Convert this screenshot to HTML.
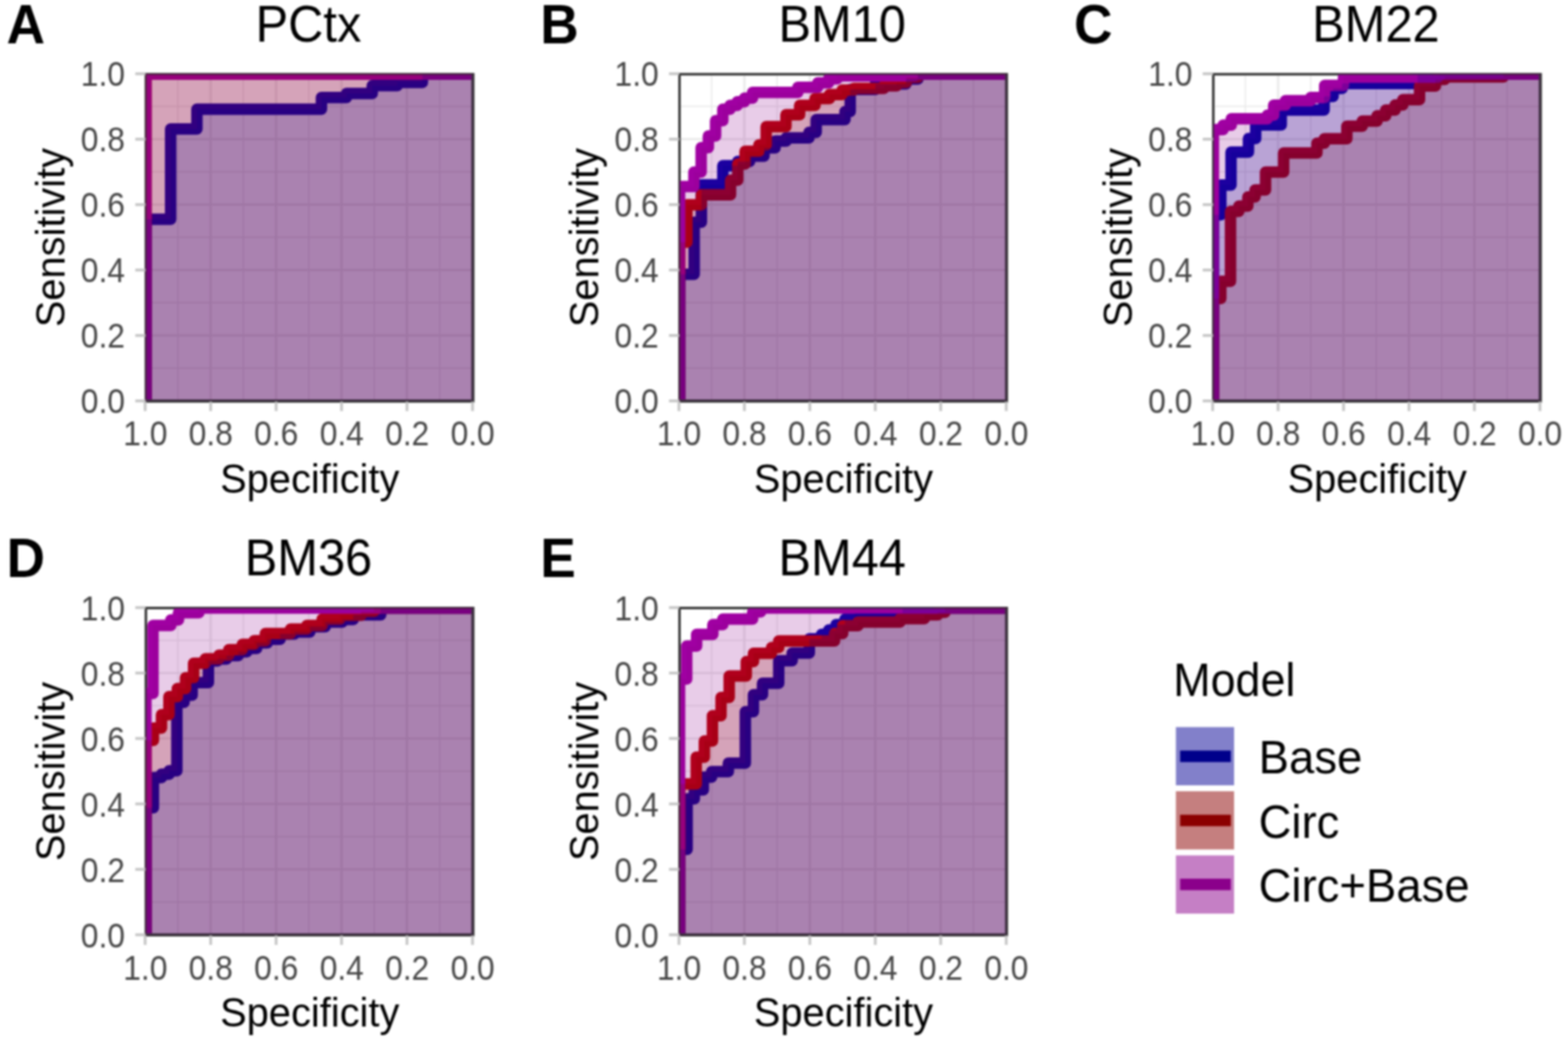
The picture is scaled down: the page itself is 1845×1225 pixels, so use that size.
<!DOCTYPE html>
<html lang="en">
<head>
<meta charset="utf-8">
<title>ROC curves by brain region</title>
<style>
html,body{margin:0;padding:0;background:#fff;overflow:hidden;}
body{width:1845px;height:1225px;overflow:hidden;font-family:"Liberation Sans",Arial,Helvetica,sans-serif;}
svg{display:block;filter:blur(1px);}
svg text{font-family:"Liberation Sans",Arial,Helvetica,sans-serif;}
.g{stroke:#e9e9e9;}
.ln{fill:none;stroke-width:13.5;stroke-linejoin:round;stroke-linecap:butt;}
.bd{fill:#fff;stroke:#333;stroke-width:2.8;}
.tk{stroke:#c4c4c4;stroke-width:3.2;}
.bo{fill:none;stroke:#333;stroke-width:2.8;stroke-opacity:0.45;}
.ol{fill:none;stroke:#45304a;stroke-width:4.6;stroke-linejoin:miter;}
.at{font-size:41.3px;fill:#474747;}
.ax{font-size:48.5px;fill:#000;}
.lg{font-size:56px;fill:#000;}
.ti{font-size:60.6px;fill:#000;}
.tg{font-size:65px;font-weight:bold;fill:#000;}
</style>
</head>
<body>
<svg width="1845" height="1225" viewBox="0 0 1845 1225">
<rect width="1845" height="1225" fill="#fff"/>
<g class="panel">
<rect class="bd" x="171.7" y="87.3" width="385.1" height="385"/>
<clipPath id="cA"><rect x="171.7" y="87.3" width="385.1" height="385"/></clipPath>
<g clip-path="url(#cA)">
<line class="g" x1="517.4" y1="88.9" x2="517.4" y2="470.7" stroke-width="1.4"/>
<line class="g" x1="173.2" y1="433.3" x2="555.1" y2="433.3" stroke-width="1.4"/>
<line class="g" x1="478.9" y1="88.9" x2="478.9" y2="470.7" stroke-width="2.6"/>
<line class="g" x1="173.2" y1="394.8" x2="555.1" y2="394.8" stroke-width="2.6"/>
<line class="g" x1="440.4" y1="88.9" x2="440.4" y2="470.7" stroke-width="1.4"/>
<line class="g" x1="173.2" y1="356.3" x2="555.1" y2="356.3" stroke-width="1.4"/>
<line class="g" x1="401.9" y1="88.9" x2="401.9" y2="470.7" stroke-width="2.6"/>
<line class="g" x1="173.2" y1="317.8" x2="555.1" y2="317.8" stroke-width="2.6"/>
<line class="g" x1="363.4" y1="88.9" x2="363.4" y2="470.7" stroke-width="1.4"/>
<line class="g" x1="173.2" y1="279.3" x2="555.1" y2="279.3" stroke-width="1.4"/>
<line class="g" x1="324.9" y1="88.9" x2="324.9" y2="470.7" stroke-width="2.6"/>
<line class="g" x1="173.2" y1="240.8" x2="555.1" y2="240.8" stroke-width="2.6"/>
<line class="g" x1="286.4" y1="88.9" x2="286.4" y2="470.7" stroke-width="1.4"/>
<line class="g" x1="173.2" y1="202.3" x2="555.1" y2="202.3" stroke-width="1.4"/>
<line class="g" x1="247.9" y1="88.9" x2="247.9" y2="470.7" stroke-width="2.6"/>
<line class="g" x1="173.2" y1="163.8" x2="555.1" y2="163.8" stroke-width="2.6"/>
<line class="g" x1="209.4" y1="88.9" x2="209.4" y2="470.7" stroke-width="1.4"/>
<line class="g" x1="173.2" y1="125.3" x2="555.1" y2="125.3" stroke-width="1.4"/>
<path class="ln" d="M171.7 472.3V258H200.8V151.7H231.7V128.4H378.2V114.7H407.7V109.9H438V100.8H467.5V97H497V87.3H556.8" stroke="#0000a5"/>
<path class="ln" d="M171.7 472.3V87.3H556.8" stroke="#b90000"/>
<path class="ln" d="M171.7 472.3V87.3H556.8" stroke="#a000a2"/>
<path d="M171.7 472.3V87.3H556.8V472.3Z" fill="#8b008b" fill-opacity="0.2"/>
<path d="M171.7 472.3V87.3H556.8V472.3Z" fill="#8b0000" fill-opacity="0.2"/>
<path d="M171.7 472.3V258H200.8V151.7H231.7V128.4H378.2V114.7H407.7V109.9H438V100.8H467.5V97H497V87.3H556.8V472.3Z" fill="#00008b" fill-opacity="0.2"/>
<path class="ol" d="M171.7 472.3H556.8V87.3"/>
</g>
<rect class="bo" x="171.7" y="87.3" width="385.1" height="385"/>
<line class="tk" x1="556" y1="472.6" x2="556" y2="483.7"/>
<line class="tk" x1="159.2" y1="471.8" x2="171.3" y2="471.8"/>
<text class="at" text-anchor="middle" transform="translate(556.15 524.3) scale(0.905 1)">0.0</text>
<text class="at" text-anchor="end" transform="translate(147.05 486.3) scale(0.905 1)">0.0</text>
<line class="tk" x1="478.9" y1="472.6" x2="478.9" y2="483.7"/>
<line class="tk" x1="159.2" y1="394.8" x2="171.3" y2="394.8"/>
<text class="at" text-anchor="middle" transform="translate(479.13 524.3) scale(0.905 1)">0.2</text>
<text class="at" text-anchor="end" transform="translate(147.05 409.3) scale(0.905 1)">0.2</text>
<line class="tk" x1="401.9" y1="472.6" x2="401.9" y2="483.7"/>
<line class="tk" x1="159.2" y1="317.8" x2="171.3" y2="317.8"/>
<text class="at" text-anchor="middle" transform="translate(402.11 524.3) scale(0.905 1)">0.4</text>
<text class="at" text-anchor="end" transform="translate(147.05 332.3) scale(0.905 1)">0.4</text>
<line class="tk" x1="324.9" y1="472.6" x2="324.9" y2="483.7"/>
<line class="tk" x1="159.2" y1="240.8" x2="171.3" y2="240.8"/>
<text class="at" text-anchor="middle" transform="translate(325.09 524.3) scale(0.905 1)">0.6</text>
<text class="at" text-anchor="end" transform="translate(147.05 255.3) scale(0.905 1)">0.6</text>
<line class="tk" x1="247.9" y1="472.6" x2="247.9" y2="483.7"/>
<line class="tk" x1="159.2" y1="163.8" x2="171.3" y2="163.8"/>
<text class="at" text-anchor="middle" transform="translate(248.07 524.3) scale(0.905 1)">0.8</text>
<text class="at" text-anchor="end" transform="translate(147.05 178.3) scale(0.905 1)">0.8</text>
<line class="tk" x1="170.8" y1="472.6" x2="170.8" y2="483.7"/>
<line class="tk" x1="159.2" y1="86.8" x2="171.3" y2="86.8"/>
<text class="at" text-anchor="middle" transform="translate(171.05 524.3) scale(0.905 1)">1.0</text>
<text class="at" text-anchor="end" transform="translate(147.05 101.3) scale(0.905 1)">1.0</text>
<text class="ax" text-anchor="middle" transform="translate(364.5 580.1) scale(0.966 1)">Specificity</text>
<text class="ax" text-anchor="middle" transform="translate(76.45 279.6) rotate(-90) scale(0.966 1)">Sensitivity</text>
<text class="ti" text-anchor="middle" transform="translate(363 49) scale(0.948 1)">PCtx</text>
<text class="tg" transform="translate(7.75 50.8) scale(0.963 1)">A</text>
</g>
<g class="panel">
<rect class="bd" x="799.6" y="87.3" width="385.1" height="385"/>
<clipPath id="cB"><rect x="799.6" y="87.3" width="385.1" height="385"/></clipPath>
<g clip-path="url(#cB)">
<line class="g" x1="1145.4" y1="88.9" x2="1145.4" y2="470.7" stroke-width="1.4"/>
<line class="g" x1="801.2" y1="433.3" x2="1183.2" y2="433.3" stroke-width="1.4"/>
<line class="g" x1="1106.9" y1="88.9" x2="1106.9" y2="470.7" stroke-width="2.6"/>
<line class="g" x1="801.2" y1="394.8" x2="1183.2" y2="394.8" stroke-width="2.6"/>
<line class="g" x1="1068.4" y1="88.9" x2="1068.4" y2="470.7" stroke-width="1.4"/>
<line class="g" x1="801.2" y1="356.3" x2="1183.2" y2="356.3" stroke-width="1.4"/>
<line class="g" x1="1029.9" y1="88.9" x2="1029.9" y2="470.7" stroke-width="2.6"/>
<line class="g" x1="801.2" y1="317.8" x2="1183.2" y2="317.8" stroke-width="2.6"/>
<line class="g" x1="991.4" y1="88.9" x2="991.4" y2="470.7" stroke-width="1.4"/>
<line class="g" x1="801.2" y1="279.3" x2="1183.2" y2="279.3" stroke-width="1.4"/>
<line class="g" x1="952.9" y1="88.9" x2="952.9" y2="470.7" stroke-width="2.6"/>
<line class="g" x1="801.2" y1="240.8" x2="1183.2" y2="240.8" stroke-width="2.6"/>
<line class="g" x1="914.4" y1="88.9" x2="914.4" y2="470.7" stroke-width="1.4"/>
<line class="g" x1="801.2" y1="202.3" x2="1183.2" y2="202.3" stroke-width="1.4"/>
<line class="g" x1="875.9" y1="88.9" x2="875.9" y2="470.7" stroke-width="2.6"/>
<line class="g" x1="801.2" y1="163.8" x2="1183.2" y2="163.8" stroke-width="2.6"/>
<line class="g" x1="837.4" y1="88.9" x2="837.4" y2="470.7" stroke-width="1.4"/>
<line class="g" x1="801.2" y1="125.3" x2="1183.2" y2="125.3" stroke-width="1.4"/>
<path class="ln" d="M799.6 472.3V322.7H816.8V261.4H825.3V217.5H850.5V195H868V190H882V183.7H899V174H912V166H925V162.3H951.9V155.7H960.4V140.8H994.3V131.3H1000.4V105.2H1030V98.8H1066V93H1080V87.3H1184.8" stroke="#0000a5"/>
<path class="ln" d="M799.6 472.3V285H808.2V241H825.3V229.2H859.6V212H868.1V193H876.7V178H893V170.6H901.5V149H924.8V135H940.9V124.1H959V116.1H976V111.3H990.8V106H1004.6V103.9H1040V101H1055V97H1066.4V91H1080V87.3H1184.8" stroke="#b90000"/>
<path class="ln" d="M799.6 472.3V219.6H816.5V202.5H825V173.7H833.5V159.9H842V141.9H850.5V128.6H859V124.1H867.5V119.8H876V115.6H885.5V108.7H938.8V102.8H962.2V97.5H975V92.7H985V89.3H1076V87.3H1184.8" stroke="#a000a2"/>
<path d="M799.6 472.3V219.6H816.5V202.5H825V173.7H833.5V159.9H842V141.9H850.5V128.6H859V124.1H867.5V119.8H876V115.6H885.5V108.7H938.8V102.8H962.2V97.5H975V92.7H985V89.3H1076V87.3H1184.8V472.3Z" fill="#8b008b" fill-opacity="0.2"/>
<path d="M799.6 472.3V285H808.2V241H825.3V229.2H859.6V212H868.1V193H876.7V178H893V170.6H901.5V149H924.8V135H940.9V124.1H959V116.1H976V111.3H990.8V106H1004.6V103.9H1040V101H1055V97H1066.4V91H1080V87.3H1184.8V472.3Z" fill="#8b0000" fill-opacity="0.2"/>
<path d="M799.6 472.3V322.7H816.8V261.4H825.3V217.5H850.5V195H868V190H882V183.7H899V174H912V166H925V162.3H951.9V155.7H960.4V140.8H994.3V131.3H1000.4V105.2H1030V98.8H1066V93H1080V87.3H1184.8V472.3Z" fill="#00008b" fill-opacity="0.2"/>
<path class="ol" d="M799.6 472.3H1184.8V87.3"/>
</g>
<rect class="bo" x="799.6" y="87.3" width="385.1" height="385"/>
<line class="tk" x1="1184" y1="472.6" x2="1184" y2="483.7"/>
<line class="tk" x1="787.2" y1="471.8" x2="799.4" y2="471.8"/>
<text class="at" text-anchor="middle" transform="translate(1184.15 524.3) scale(0.905 1)">0.0</text>
<text class="at" text-anchor="end" transform="translate(775.05 486.3) scale(0.905 1)">0.0</text>
<line class="tk" x1="1106.9" y1="472.6" x2="1106.9" y2="483.7"/>
<line class="tk" x1="787.2" y1="394.8" x2="799.4" y2="394.8"/>
<text class="at" text-anchor="middle" transform="translate(1107.13 524.3) scale(0.905 1)">0.2</text>
<text class="at" text-anchor="end" transform="translate(775.05 409.3) scale(0.905 1)">0.2</text>
<line class="tk" x1="1029.9" y1="472.6" x2="1029.9" y2="483.7"/>
<line class="tk" x1="787.2" y1="317.8" x2="799.4" y2="317.8"/>
<text class="at" text-anchor="middle" transform="translate(1030.11 524.3) scale(0.905 1)">0.4</text>
<text class="at" text-anchor="end" transform="translate(775.05 332.3) scale(0.905 1)">0.4</text>
<line class="tk" x1="952.9" y1="472.6" x2="952.9" y2="483.7"/>
<line class="tk" x1="787.2" y1="240.8" x2="799.4" y2="240.8"/>
<text class="at" text-anchor="middle" transform="translate(953.09 524.3) scale(0.905 1)">0.6</text>
<text class="at" text-anchor="end" transform="translate(775.05 255.3) scale(0.905 1)">0.6</text>
<line class="tk" x1="875.9" y1="472.6" x2="875.9" y2="483.7"/>
<line class="tk" x1="787.2" y1="163.8" x2="799.4" y2="163.8"/>
<text class="at" text-anchor="middle" transform="translate(876.07 524.3) scale(0.905 1)">0.8</text>
<text class="at" text-anchor="end" transform="translate(775.05 178.3) scale(0.905 1)">0.8</text>
<line class="tk" x1="798.9" y1="472.6" x2="798.9" y2="483.7"/>
<line class="tk" x1="787.2" y1="86.8" x2="799.4" y2="86.8"/>
<text class="at" text-anchor="middle" transform="translate(799.05 524.3) scale(0.905 1)">1.0</text>
<text class="at" text-anchor="end" transform="translate(775.05 101.3) scale(0.905 1)">1.0</text>
<text class="ax" text-anchor="middle" transform="translate(992.5 580.1) scale(0.966 1)">Specificity</text>
<text class="ax" text-anchor="middle" transform="translate(704.45 279.6) rotate(-90) scale(0.966 1)">Sensitivity</text>
<text class="ti" text-anchor="middle" transform="translate(991 49) scale(0.948 1)">BM10</text>
<text class="tg" transform="translate(635.75 50.8) scale(0.963 1)">B</text>
</g>
<g class="panel">
<rect class="bd" x="1427.7" y="87.3" width="385.1" height="385"/>
<clipPath id="cC"><rect x="1427.7" y="87.3" width="385.1" height="385"/></clipPath>
<g clip-path="url(#cC)">
<line class="g" x1="1773.4" y1="88.9" x2="1773.4" y2="470.7" stroke-width="1.4"/>
<line class="g" x1="1429.2" y1="433.3" x2="1811.2" y2="433.3" stroke-width="1.4"/>
<line class="g" x1="1734.9" y1="88.9" x2="1734.9" y2="470.7" stroke-width="2.6"/>
<line class="g" x1="1429.2" y1="394.8" x2="1811.2" y2="394.8" stroke-width="2.6"/>
<line class="g" x1="1696.4" y1="88.9" x2="1696.4" y2="470.7" stroke-width="1.4"/>
<line class="g" x1="1429.2" y1="356.3" x2="1811.2" y2="356.3" stroke-width="1.4"/>
<line class="g" x1="1657.9" y1="88.9" x2="1657.9" y2="470.7" stroke-width="2.6"/>
<line class="g" x1="1429.2" y1="317.8" x2="1811.2" y2="317.8" stroke-width="2.6"/>
<line class="g" x1="1619.4" y1="88.9" x2="1619.4" y2="470.7" stroke-width="1.4"/>
<line class="g" x1="1429.2" y1="279.3" x2="1811.2" y2="279.3" stroke-width="1.4"/>
<line class="g" x1="1580.9" y1="88.9" x2="1580.9" y2="470.7" stroke-width="2.6"/>
<line class="g" x1="1429.2" y1="240.8" x2="1811.2" y2="240.8" stroke-width="2.6"/>
<line class="g" x1="1542.4" y1="88.9" x2="1542.4" y2="470.7" stroke-width="1.4"/>
<line class="g" x1="1429.2" y1="202.3" x2="1811.2" y2="202.3" stroke-width="1.4"/>
<line class="g" x1="1503.9" y1="88.9" x2="1503.9" y2="470.7" stroke-width="2.6"/>
<line class="g" x1="1429.2" y1="163.8" x2="1811.2" y2="163.8" stroke-width="2.6"/>
<line class="g" x1="1465.4" y1="88.9" x2="1465.4" y2="470.7" stroke-width="1.4"/>
<line class="g" x1="1429.2" y1="125.3" x2="1811.2" y2="125.3" stroke-width="1.4"/>
<path class="ln" d="M1427.7 472.3V252.8H1436.5V217.7H1448.5V179H1469V163H1477.5V147H1507.6V129.6H1558V113.6H1568.6V104.1H1579.2V98.3H1668V87.3H1812.8" stroke="#0000a5"/>
<path class="ln" d="M1427.7 472.3V351.3H1436.5V331.1H1447.9V248.8H1457.7V242.5H1468.3V231.8H1476.8V223.4H1489.1V202.4H1510.4V180.1H1549.6V168.4H1558.3V163.3H1584.8V148.5H1602.9V142.6H1620.4V136.3H1630.5V129.4H1641.6V123.5H1650.7V117.2H1670.3V101.2H1689V93.5H1700V90.5H1769V87.3H1812.8" stroke="#b90000"/>
<path class="ln" d="M1427.7 472.3V152.5H1439.2V147.2H1448.8V139.8H1491.3V135.5H1498.7V123.8H1512.5V118.5H1542.2V114.8H1558.7V100.5H1580.9V90.8H1692V87.3H1812.8" stroke="#a000a2"/>
<path d="M1427.7 472.3V152.5H1439.2V147.2H1448.8V139.8H1491.3V135.5H1498.7V123.8H1512.5V118.5H1542.2V114.8H1558.7V100.5H1580.9V90.8H1692V87.3H1812.8V472.3Z" fill="#8b008b" fill-opacity="0.2"/>
<path d="M1427.7 472.3V351.3H1436.5V331.1H1447.9V248.8H1457.7V242.5H1468.3V231.8H1476.8V223.4H1489.1V202.4H1510.4V180.1H1549.6V168.4H1558.3V163.3H1584.8V148.5H1602.9V142.6H1620.4V136.3H1630.5V129.4H1641.6V123.5H1650.7V117.2H1670.3V101.2H1689V93.5H1700V90.5H1769V87.3H1812.8V472.3Z" fill="#8b0000" fill-opacity="0.2"/>
<path d="M1427.7 472.3V252.8H1436.5V217.7H1448.5V179H1469V163H1477.5V147H1507.6V129.6H1558V113.6H1568.6V104.1H1579.2V98.3H1668V87.3H1812.8V472.3Z" fill="#00008b" fill-opacity="0.2"/>
<path class="ol" d="M1427.7 472.3H1812.8V87.3"/>
</g>
<rect class="bo" x="1427.7" y="87.3" width="385.1" height="385"/>
<line class="tk" x1="1812" y1="472.6" x2="1812" y2="483.7"/>
<line class="tk" x1="1415.2" y1="471.8" x2="1427.4" y2="471.8"/>
<text class="at" text-anchor="middle" transform="translate(1812.15 524.3) scale(0.905 1)">0.0</text>
<text class="at" text-anchor="end" transform="translate(1403.05 486.3) scale(0.905 1)">0.0</text>
<line class="tk" x1="1734.9" y1="472.6" x2="1734.9" y2="483.7"/>
<line class="tk" x1="1415.2" y1="394.8" x2="1427.4" y2="394.8"/>
<text class="at" text-anchor="middle" transform="translate(1735.13 524.3) scale(0.905 1)">0.2</text>
<text class="at" text-anchor="end" transform="translate(1403.05 409.3) scale(0.905 1)">0.2</text>
<line class="tk" x1="1657.9" y1="472.6" x2="1657.9" y2="483.7"/>
<line class="tk" x1="1415.2" y1="317.8" x2="1427.4" y2="317.8"/>
<text class="at" text-anchor="middle" transform="translate(1658.11 524.3) scale(0.905 1)">0.4</text>
<text class="at" text-anchor="end" transform="translate(1403.05 332.3) scale(0.905 1)">0.4</text>
<line class="tk" x1="1580.9" y1="472.6" x2="1580.9" y2="483.7"/>
<line class="tk" x1="1415.2" y1="240.8" x2="1427.4" y2="240.8"/>
<text class="at" text-anchor="middle" transform="translate(1581.09 524.3) scale(0.905 1)">0.6</text>
<text class="at" text-anchor="end" transform="translate(1403.05 255.3) scale(0.905 1)">0.6</text>
<line class="tk" x1="1503.9" y1="472.6" x2="1503.9" y2="483.7"/>
<line class="tk" x1="1415.2" y1="163.8" x2="1427.4" y2="163.8"/>
<text class="at" text-anchor="middle" transform="translate(1504.07 524.3) scale(0.905 1)">0.8</text>
<text class="at" text-anchor="end" transform="translate(1403.05 178.3) scale(0.905 1)">0.8</text>
<line class="tk" x1="1426.9" y1="472.6" x2="1426.9" y2="483.7"/>
<line class="tk" x1="1415.2" y1="86.8" x2="1427.4" y2="86.8"/>
<text class="at" text-anchor="middle" transform="translate(1427.05 524.3) scale(0.905 1)">1.0</text>
<text class="at" text-anchor="end" transform="translate(1403.05 101.3) scale(0.905 1)">1.0</text>
<text class="ax" text-anchor="middle" transform="translate(1620.5 580.1) scale(0.966 1)">Specificity</text>
<text class="ax" text-anchor="middle" transform="translate(1332.45 279.6) rotate(-90) scale(0.966 1)">Sensitivity</text>
<text class="ti" text-anchor="middle" transform="translate(1619 49) scale(0.948 1)">BM22</text>
<text class="tg" transform="translate(1263.75 50.8) scale(0.963 1)">C</text>
</g>
<g class="panel">
<rect class="bd" x="171.7" y="715.5" width="385.1" height="385"/>
<clipPath id="cD"><rect x="171.7" y="715.5" width="385.1" height="385"/></clipPath>
<g clip-path="url(#cD)">
<line class="g" x1="517.4" y1="717.1" x2="517.4" y2="1098.9" stroke-width="1.4"/>
<line class="g" x1="173.2" y1="1061.5" x2="555.1" y2="1061.5" stroke-width="1.4"/>
<line class="g" x1="478.9" y1="717.1" x2="478.9" y2="1098.9" stroke-width="2.6"/>
<line class="g" x1="173.2" y1="1023" x2="555.1" y2="1023" stroke-width="2.6"/>
<line class="g" x1="440.4" y1="717.1" x2="440.4" y2="1098.9" stroke-width="1.4"/>
<line class="g" x1="173.2" y1="984.5" x2="555.1" y2="984.5" stroke-width="1.4"/>
<line class="g" x1="401.9" y1="717.1" x2="401.9" y2="1098.9" stroke-width="2.6"/>
<line class="g" x1="173.2" y1="946" x2="555.1" y2="946" stroke-width="2.6"/>
<line class="g" x1="363.4" y1="717.1" x2="363.4" y2="1098.9" stroke-width="1.4"/>
<line class="g" x1="173.2" y1="907.5" x2="555.1" y2="907.5" stroke-width="1.4"/>
<line class="g" x1="324.9" y1="717.1" x2="324.9" y2="1098.9" stroke-width="2.6"/>
<line class="g" x1="173.2" y1="869" x2="555.1" y2="869" stroke-width="2.6"/>
<line class="g" x1="286.4" y1="717.1" x2="286.4" y2="1098.9" stroke-width="1.4"/>
<line class="g" x1="173.2" y1="830.5" x2="555.1" y2="830.5" stroke-width="1.4"/>
<line class="g" x1="247.9" y1="717.1" x2="247.9" y2="1098.9" stroke-width="2.6"/>
<line class="g" x1="173.2" y1="792" x2="555.1" y2="792" stroke-width="2.6"/>
<line class="g" x1="209.4" y1="717.1" x2="209.4" y2="1098.9" stroke-width="1.4"/>
<line class="g" x1="173.2" y1="753.5" x2="555.1" y2="753.5" stroke-width="1.4"/>
<path class="ln" d="M171.7 1100.5V950.6H180.5V915H190V911H199V907H208.1V826.6H216.6V818H226.1V803.2H245.2V777.7H255.9V775.6H266.5V771.4H280.3V767.1H290.4V762.9H302V756.5H314.7V752.3H329.6V745.9H346.6V743.8H364.6V737.4H382.7V732.1H402.8V729H415.6V723.6H448V715.5H556.8" stroke="#0000a5"/>
<path class="ln" d="M171.7 1100.5V871.3H180.5V856.7H190V841H198.8V819.8H208.7V810.2H218.3V797.5H227.8V780.5H241.6V775.2H257.6V771H269.2V764.6H285.2V758.2H299V754H312.2V745.5H341.9V740.2H361V735.9H379.1V728.5H400V724H425V719.5H440V715.5H556.8" stroke="#b90000"/>
<path class="ln" d="M171.7 1100.5V816H180V736H201V729.5H210V721H234V715.5H556.8" stroke="#a000a2"/>
<path d="M171.7 1100.5V816H180V736H201V729.5H210V721H234V715.5H556.8V1100.5Z" fill="#8b008b" fill-opacity="0.2"/>
<path d="M171.7 1100.5V871.3H180.5V856.7H190V841H198.8V819.8H208.7V810.2H218.3V797.5H227.8V780.5H241.6V775.2H257.6V771H269.2V764.6H285.2V758.2H299V754H312.2V745.5H341.9V740.2H361V735.9H379.1V728.5H400V724H425V719.5H440V715.5H556.8V1100.5Z" fill="#8b0000" fill-opacity="0.2"/>
<path d="M171.7 1100.5V950.6H180.5V915H190V911H199V907H208.1V826.6H216.6V818H226.1V803.2H245.2V777.7H255.9V775.6H266.5V771.4H280.3V767.1H290.4V762.9H302V756.5H314.7V752.3H329.6V745.9H346.6V743.8H364.6V737.4H382.7V732.1H402.8V729H415.6V723.6H448V715.5H556.8V1100.5Z" fill="#00008b" fill-opacity="0.2"/>
<path class="ol" d="M171.7 1100.5H556.8V715.5"/>
</g>
<rect class="bo" x="171.7" y="715.5" width="385.1" height="385"/>
<line class="tk" x1="556" y1="1100.8" x2="556" y2="1111.9"/>
<line class="tk" x1="159.2" y1="1100" x2="171.3" y2="1100"/>
<text class="at" text-anchor="middle" transform="translate(556.15 1152.5) scale(0.905 1)">0.0</text>
<text class="at" text-anchor="end" transform="translate(147.05 1114.5) scale(0.905 1)">0.0</text>
<line class="tk" x1="478.9" y1="1100.8" x2="478.9" y2="1111.9"/>
<line class="tk" x1="159.2" y1="1023" x2="171.3" y2="1023"/>
<text class="at" text-anchor="middle" transform="translate(479.13 1152.5) scale(0.905 1)">0.2</text>
<text class="at" text-anchor="end" transform="translate(147.05 1037.5) scale(0.905 1)">0.2</text>
<line class="tk" x1="401.9" y1="1100.8" x2="401.9" y2="1111.9"/>
<line class="tk" x1="159.2" y1="946" x2="171.3" y2="946"/>
<text class="at" text-anchor="middle" transform="translate(402.11 1152.5) scale(0.905 1)">0.4</text>
<text class="at" text-anchor="end" transform="translate(147.05 960.5) scale(0.905 1)">0.4</text>
<line class="tk" x1="324.9" y1="1100.8" x2="324.9" y2="1111.9"/>
<line class="tk" x1="159.2" y1="869" x2="171.3" y2="869"/>
<text class="at" text-anchor="middle" transform="translate(325.09 1152.5) scale(0.905 1)">0.6</text>
<text class="at" text-anchor="end" transform="translate(147.05 883.5) scale(0.905 1)">0.6</text>
<line class="tk" x1="247.9" y1="1100.8" x2="247.9" y2="1111.9"/>
<line class="tk" x1="159.2" y1="792" x2="171.3" y2="792"/>
<text class="at" text-anchor="middle" transform="translate(248.07 1152.5) scale(0.905 1)">0.8</text>
<text class="at" text-anchor="end" transform="translate(147.05 806.5) scale(0.905 1)">0.8</text>
<line class="tk" x1="170.8" y1="1100.8" x2="170.8" y2="1111.9"/>
<line class="tk" x1="159.2" y1="715" x2="171.3" y2="715"/>
<text class="at" text-anchor="middle" transform="translate(171.05 1152.5) scale(0.905 1)">1.0</text>
<text class="at" text-anchor="end" transform="translate(147.05 729.5) scale(0.905 1)">1.0</text>
<text class="ax" text-anchor="middle" transform="translate(364.5 1208.3) scale(0.966 1)">Specificity</text>
<text class="ax" text-anchor="middle" transform="translate(76.45 907.8) rotate(-90) scale(0.966 1)">Sensitivity</text>
<text class="ti" text-anchor="middle" transform="translate(363 677.2) scale(0.948 1)">BM36</text>
<text class="tg" transform="translate(7.75 679) scale(0.963 1)">D</text>
</g>
<g class="panel">
<rect class="bd" x="799.6" y="715.5" width="385.1" height="385"/>
<clipPath id="cE"><rect x="799.6" y="715.5" width="385.1" height="385"/></clipPath>
<g clip-path="url(#cE)">
<line class="g" x1="1145.4" y1="717.1" x2="1145.4" y2="1098.9" stroke-width="1.4"/>
<line class="g" x1="801.2" y1="1061.5" x2="1183.2" y2="1061.5" stroke-width="1.4"/>
<line class="g" x1="1106.9" y1="717.1" x2="1106.9" y2="1098.9" stroke-width="2.6"/>
<line class="g" x1="801.2" y1="1023" x2="1183.2" y2="1023" stroke-width="2.6"/>
<line class="g" x1="1068.4" y1="717.1" x2="1068.4" y2="1098.9" stroke-width="1.4"/>
<line class="g" x1="801.2" y1="984.5" x2="1183.2" y2="984.5" stroke-width="1.4"/>
<line class="g" x1="1029.9" y1="717.1" x2="1029.9" y2="1098.9" stroke-width="2.6"/>
<line class="g" x1="801.2" y1="946" x2="1183.2" y2="946" stroke-width="2.6"/>
<line class="g" x1="991.4" y1="717.1" x2="991.4" y2="1098.9" stroke-width="1.4"/>
<line class="g" x1="801.2" y1="907.5" x2="1183.2" y2="907.5" stroke-width="1.4"/>
<line class="g" x1="952.9" y1="717.1" x2="952.9" y2="1098.9" stroke-width="2.6"/>
<line class="g" x1="801.2" y1="869" x2="1183.2" y2="869" stroke-width="2.6"/>
<line class="g" x1="914.4" y1="717.1" x2="914.4" y2="1098.9" stroke-width="1.4"/>
<line class="g" x1="801.2" y1="830.5" x2="1183.2" y2="830.5" stroke-width="1.4"/>
<line class="g" x1="875.9" y1="717.1" x2="875.9" y2="1098.9" stroke-width="2.6"/>
<line class="g" x1="801.2" y1="792" x2="1183.2" y2="792" stroke-width="2.6"/>
<line class="g" x1="837.4" y1="717.1" x2="837.4" y2="1098.9" stroke-width="1.4"/>
<line class="g" x1="801.2" y1="753.5" x2="1183.2" y2="753.5" stroke-width="1.4"/>
<path class="ln" d="M799.6 1100.5V999.5H808.5V940H817V929.4H827.6V914.5H837.3V908H857V898H877V837.5H886.5V817.5H897.2V803.9H916.3V777.5H932.1V768.5H952.3V751.8H966.7V746.5H975.2V741.2H983.7V734.9H994.3V728.5H1005.7V721.5H1062V715.5H1184.8" stroke="#0000a5"/>
<path class="ln" d="M799.6 1100.5V922.6H819.2V891H828.8V871.9H838.3V842.2H848.4V820.8H858V795.4H878.1V778.4H886.6V768.8H907.8V762H916.3V754.3H982V745.5H991.6V736.3H1009.6V732.1H1059V727.9H1087.6V723.6H1103.5V720.5H1112V715.5H1184.8" stroke="#b90000"/>
<path class="ln" d="M799.6 1100.5V799H808V760.3H819.7V746.5H838.8V734.9H850.5V728.5H885.6V720H895V715.5H1184.8" stroke="#a000a2"/>
<path d="M799.6 1100.5V799H808V760.3H819.7V746.5H838.8V734.9H850.5V728.5H885.6V720H895V715.5H1184.8V1100.5Z" fill="#8b008b" fill-opacity="0.2"/>
<path d="M799.6 1100.5V922.6H819.2V891H828.8V871.9H838.3V842.2H848.4V820.8H858V795.4H878.1V778.4H886.6V768.8H907.8V762H916.3V754.3H982V745.5H991.6V736.3H1009.6V732.1H1059V727.9H1087.6V723.6H1103.5V720.5H1112V715.5H1184.8V1100.5Z" fill="#8b0000" fill-opacity="0.2"/>
<path d="M799.6 1100.5V999.5H808.5V940H817V929.4H827.6V914.5H837.3V908H857V898H877V837.5H886.5V817.5H897.2V803.9H916.3V777.5H932.1V768.5H952.3V751.8H966.7V746.5H975.2V741.2H983.7V734.9H994.3V728.5H1005.7V721.5H1062V715.5H1184.8V1100.5Z" fill="#00008b" fill-opacity="0.2"/>
<path class="ol" d="M799.6 1100.5H1184.8V715.5"/>
</g>
<rect class="bo" x="799.6" y="715.5" width="385.1" height="385"/>
<line class="tk" x1="1184" y1="1100.8" x2="1184" y2="1111.9"/>
<line class="tk" x1="787.2" y1="1100" x2="799.4" y2="1100"/>
<text class="at" text-anchor="middle" transform="translate(1184.15 1152.5) scale(0.905 1)">0.0</text>
<text class="at" text-anchor="end" transform="translate(775.05 1114.5) scale(0.905 1)">0.0</text>
<line class="tk" x1="1106.9" y1="1100.8" x2="1106.9" y2="1111.9"/>
<line class="tk" x1="787.2" y1="1023" x2="799.4" y2="1023"/>
<text class="at" text-anchor="middle" transform="translate(1107.13 1152.5) scale(0.905 1)">0.2</text>
<text class="at" text-anchor="end" transform="translate(775.05 1037.5) scale(0.905 1)">0.2</text>
<line class="tk" x1="1029.9" y1="1100.8" x2="1029.9" y2="1111.9"/>
<line class="tk" x1="787.2" y1="946" x2="799.4" y2="946"/>
<text class="at" text-anchor="middle" transform="translate(1030.11 1152.5) scale(0.905 1)">0.4</text>
<text class="at" text-anchor="end" transform="translate(775.05 960.5) scale(0.905 1)">0.4</text>
<line class="tk" x1="952.9" y1="1100.8" x2="952.9" y2="1111.9"/>
<line class="tk" x1="787.2" y1="869" x2="799.4" y2="869"/>
<text class="at" text-anchor="middle" transform="translate(953.09 1152.5) scale(0.905 1)">0.6</text>
<text class="at" text-anchor="end" transform="translate(775.05 883.5) scale(0.905 1)">0.6</text>
<line class="tk" x1="875.9" y1="1100.8" x2="875.9" y2="1111.9"/>
<line class="tk" x1="787.2" y1="792" x2="799.4" y2="792"/>
<text class="at" text-anchor="middle" transform="translate(876.07 1152.5) scale(0.905 1)">0.8</text>
<text class="at" text-anchor="end" transform="translate(775.05 806.5) scale(0.905 1)">0.8</text>
<line class="tk" x1="798.9" y1="1100.8" x2="798.9" y2="1111.9"/>
<line class="tk" x1="787.2" y1="715" x2="799.4" y2="715"/>
<text class="at" text-anchor="middle" transform="translate(799.05 1152.5) scale(0.905 1)">1.0</text>
<text class="at" text-anchor="end" transform="translate(775.05 729.5) scale(0.905 1)">1.0</text>
<text class="ax" text-anchor="middle" transform="translate(992.5 1208.3) scale(0.966 1)">Specificity</text>
<text class="ax" text-anchor="middle" transform="translate(704.45 907.8) rotate(-90) scale(0.966 1)">Sensitivity</text>
<text class="ti" text-anchor="middle" transform="translate(991 677.2) scale(0.948 1)">BM44</text>
<text class="tg" transform="translate(635.75 679) scale(0.963 1)">E</text>
</g>
<g class="legend">
<text class="lg" transform="translate(1380.6 819.4) scale(0.942 1)">Model</text>
<rect x="1383.6" y="855.6" width="68.5" height="68.5" fill="#8280ca"/>
<line x1="1388.6" y1="889.9" x2="1448.3" y2="889.9" stroke="#00008b" stroke-width="13.5"/>
<text class="lg" transform="translate(1481 910.05) scale(0.955 1)">Base</text>
<rect x="1383.6" y="931.1" width="68.5" height="68.5" fill="#c57f7f"/>
<line x1="1388.6" y1="965.4" x2="1448.3" y2="965.4" stroke="#8b0000" stroke-width="13.5"/>
<text class="lg" transform="translate(1481 985.55) scale(0.955 1)">Circ</text>
<rect x="1383.6" y="1006.6" width="68.5" height="68.5" fill="#c57fc5"/>
<line x1="1388.6" y1="1040.8" x2="1448.3" y2="1040.8" stroke="#8b008b" stroke-width="13.5"/>
<text class="lg" transform="translate(1481 1061.05) scale(0.955 1)">Circ+Base</text>
</g>
</svg>
</body>
</html>
